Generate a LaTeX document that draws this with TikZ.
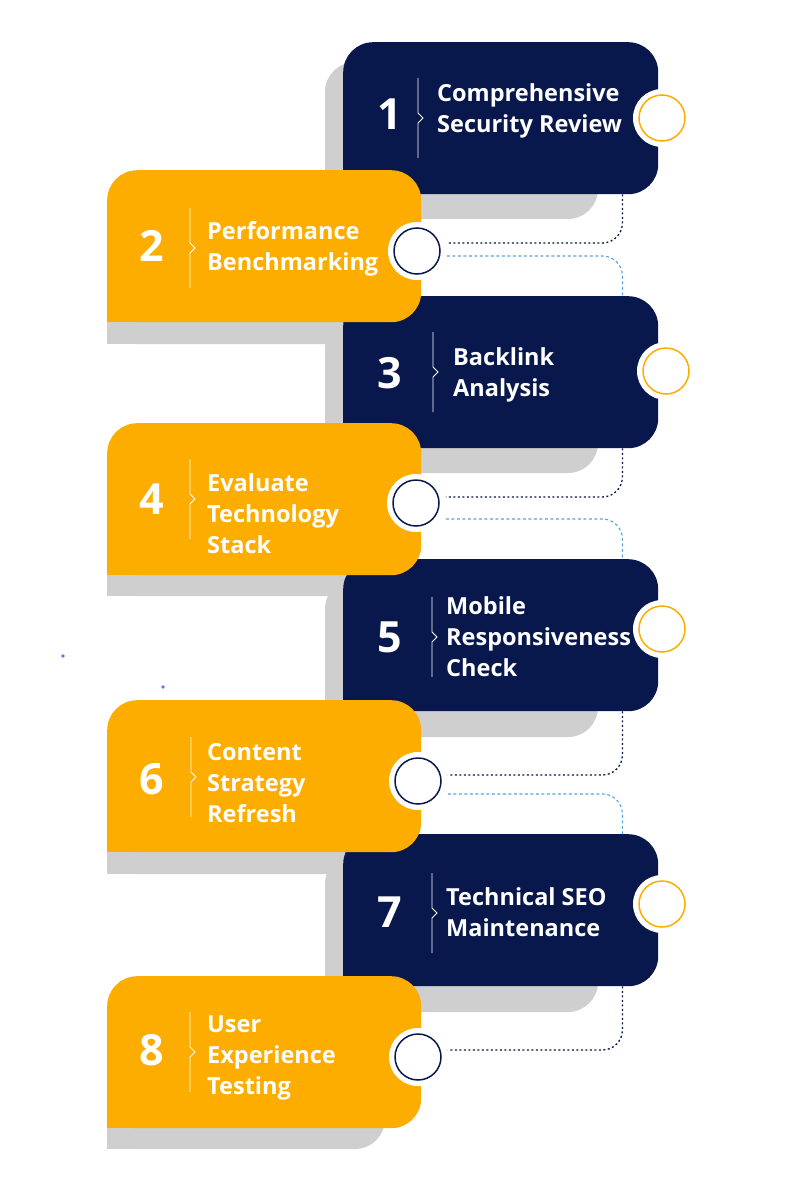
\documentclass[tikz,border=0pt]{standalone}
\usepackage{fontspec}
\setmainfont{Open Sans}
\usepackage{xcolor}
\definecolor{navy}{RGB}{9,24,76}
\definecolor{amber}{RGB}{253,172,0}
\definecolor{ltgray}{RGB}{207,207,207}
\definecolor{skyblue}{RGB}{85,165,228}
\definecolor{speck}{RGB}{172,82,232}
\usepackage{tikz}
\usetikzlibrary{calc}

\newcommand{\notchline}[2]{\draw[white,line width=0.8pt] (#1,#2-40) -- (#1,#2-5) -- (#1+5,#2) -- (#1,#2+5) -- (#1,#2+40);}

\begin{document}
\begin{tikzpicture}[x=1pt,y=-1pt,
  nbox/.style={rectangle,fill=navy,rounded corners=30pt,minimum width=315pt,minimum height=152pt,inner sep=0pt,anchor=north west},
  obox/.style={rectangle,fill=amber,rounded corners=30pt,minimum width=314pt,minimum height=152pt,inner sep=0pt,anchor=north west},
  num/.style={text=white,font=\fontsize{43}{43}\selectfont\bfseries,inner sep=0pt},
  lbl/.style={text=white,anchor=west,align=left,font=\fontsize{23.5}{31}\selectfont\bfseries,inner sep=0pt},
  ring/.style={circle,fill=white,minimum size=58pt,inner sep=0pt},
  ncirc/.style={circle,draw=navy,line width=1.5pt,fill=white,minimum size=46pt,inner sep=0pt},
  ocirc/.style={circle,draw=amber,line width=1.5pt,fill=white,minimum size=46pt,inner sep=0pt},
  dline/.style={navy,line width=1.3pt,dash pattern=on 2pt off 2.5pt,rounded corners=20pt},
  bline/.style={skyblue,line width=1.1pt,dash pattern=on 3pt off 2.5pt,rounded corners=20pt}
]
  \useasboundingbox (0,0) rectangle (800,1182);
  \fill[white] (0,0) rectangle (800,1182);

  % Shadows
  \foreach \t/\b in {42/193, 296/447, 559/711, 834/986}
    \fill[ltgray,rounded corners=30pt] (325,\t+20) rectangle (598,\b+26);
  \foreach \t/\b in {170/322, 423/574, 700/852, 976/1127}{
    \fill[ltgray,rounded corners=30pt] (107,\t+22) rectangle (385,\b+22);
    \fill[ltgray] (107,\b+22) rectangle +(30,-30);
  }

  % Steps
  \foreach \i/\t in {1/42, 3/296, 5/559, 7/834}{
    \node[nbox] (s\i) at (343,\t) {};
    \fill[navy] (s\i.south west) rectangle +(30,-30);
  }
  \foreach \i/\t in {2/170, 4/423, 6/700, 8/976}{
    \node[obox] (s\i) at (107,\t) {};
    \fill[amber] (s\i.south west) rectangle +(30,-30);
  }

  % Markers
  \foreach \i/\x/\y in {1/662/118, 3/666/371, 5/662/629, 7/662/904}{
    \node[ring] at (\x,\y) {};
    \node[ocirc] (c\i) at (\x,\y) {};
  }
  \foreach \i/\x/\y in {2/417/251, 4/416/503, 6/418/781, 8/418/1057}{
    \node[ring] at (\x,\y) {};
    \node[ncirc] (c\i) at (\x,\y) {};
  }

  % Numbers and labels
  \node[num] (n1) at (390,114) {1};
  \node[num] (n2) at (152,246) {2};
  \node[num] (n3) at (390,373) {3};
  \node[num] (n4) at (152,499) {4};
  \node[num] (n5) at (390,637) {5};
  \node[num] (n6) at (152,779) {6};
  \node[num] (n7) at (390,912) {7};
  \node[num] (n8) at (152,1050) {8};

  \notchline{418}{118} \notchline{190}{248}
  \notchline{433}{372} \notchline{190}{499}
  \notchline{432}{637} \notchline{191}{777}
  \notchline{432}{913} \notchline{190}{1052}

  \node[lbl] (t1) at (437,111) {Comprehensive\\Security Review};
  \node[lbl] (t2) at (207,249) {Performance\\Benchmarking};
  \node[lbl] (t3) at (453,375) {Backlink\\Analysis};
  \node[lbl] (t4) at (207,514) {Evaluate\\Technology\\Stack};
  \node[lbl] (t5) at (446,637) {Mobile\\Responsiveness\\Check};
  \node[lbl] (t6) at (207,783) {Content\\Strategy\\Refresh};
  \node[lbl] (t7) at (446,912) {Technical SEO\\Maintenance};
  \node[lbl] (t8) at (207,1058) {User\\Experience\\Testing};

  % Links
  \draw[dline] ([xshift=-36pt]s1.south east) |- ($(c2.east)+(6,-8)$);
  \draw[bline] ($(c2.east)+(6,5)$) -| ([xshift=-36pt]s3.north east);
  \draw[dline] ([xshift=-36pt]s3.south east) |- ($(c4.east)+(6,-6)$);
  \draw[bline] ($(c4.east)+(6,16)$) -| ([xshift=-36pt]s5.north east);
  \draw[dline] ([xshift=-36pt]s5.south east) |- ($(c6.east)+(6,-6)$);
  \draw[bline] ($(c6.east)+(6,13)$) -| ([xshift=-36pt]s7.north east);
  \draw[dline] ([xshift=-36pt]s7.south east) |- ($(c8.east)+(6,-7)$);

  % specks
  \fill[speck] (63,656) circle (1.8);
  \fill[speck] (163,687) circle (1.8);
\end{tikzpicture}
\end{document}
